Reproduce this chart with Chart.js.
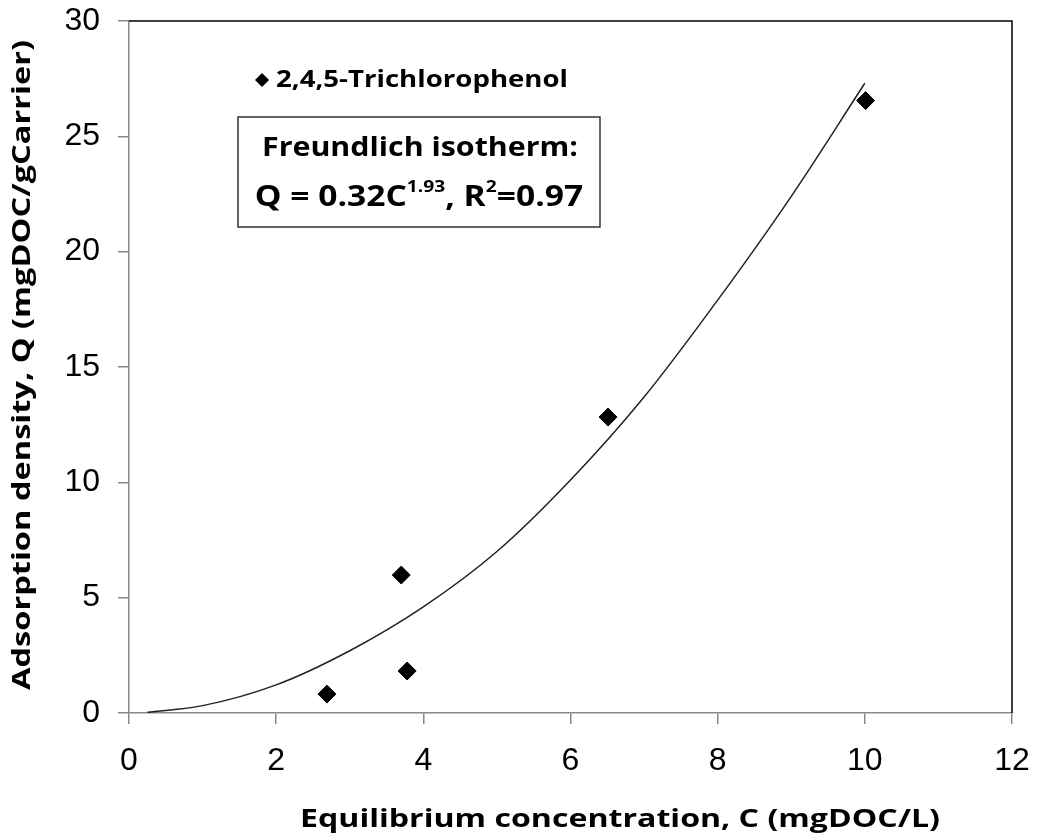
<!DOCTYPE html>
<html>
<head>
<meta charset="utf-8">
<script src="https://cdn.jsdelivr.net/npm/chart.js@4.4.0/dist/chart.umd.min.js"></script>
<style>
  html, body { margin: 0; padding: 0; background: #fff; }
  #wrap { width: 1037px; height: 839px; }
</style>
</head>
<body>
<div id="wrap"><canvas id="myChart" width="1037" height="839"></canvas></div>
<script>
// measured points for 2,4,5-Trichlorophenol
const concC = [2.69, 3.70, 3.78, 6.51, 10.01];
const densQ = [0.82, 5.98, 1.82, 12.83, 26.55];

// fitted Freundlich curve
const fitC = [0.25, 1, 2, 3, 4, 5, 6, 7, 8, 9, 10];
const fitQ = [0.03, 0.32, 1.22, 2.7, 4.6, 7.0, 10.1, 13.7, 17.9, 22.4, 27.3];

const xTicks = [0, 2, 4, 6, 8, 10, 12];
const yTicks = [0, 5, 10, 15, 20, 25, 30];

const seriesName = '2,4,5-Trichlorophenol';
const xTitle = 'Equilibrium concentration, C (mgDOC/L)';
const yTitle = 'Adsorption density, Q (mgDOC/gCarrier)';

const fam = '"Open Sans", Lato, sans-serif';

// text squeezed/stretched horizontally to a wanted width (the original font is Calibri)
function fitText(ctx, text, cx, cy, size, width) {
  ctx.font = 'bold ' + size + 'px ' + fam;
  const w = ctx.measureText(text).width;
  ctx.save();
  ctx.translate(cx, cy);
  ctx.scale(width / w, 1);
  ctx.textAlign = 'center';
  ctx.textBaseline = 'middle';
  ctx.fillText(text, 0, 0);
  ctx.restore();
}

// draws the frame, axis titles, legend and the equation box
const extras = {
  id: 'extras',
  afterDraw(chart) {
    const ctx = chart.ctx;
    const a = chart.chartArea;
    ctx.save();
    // black top + right frame
    ctx.strokeStyle = '#000';
    ctx.lineWidth = 1.5;
    ctx.beginPath();
    ctx.moveTo(a.left, a.top);
    ctx.lineTo(a.right, a.top);
    ctx.lineTo(a.right, a.bottom);
    ctx.stroke();

    ctx.fillStyle = '#000';
    fitText(ctx, xTitle, 620, 820, 25, 640);

    ctx.save();
    ctx.translate(23, 365);
    ctx.rotate(-Math.PI / 2);
    fitText(ctx, yTitle, 0, 0, 25, 650);
    ctx.restore();

    // legend
    ctx.beginPath();
    ctx.moveTo(262, 73); ctx.lineTo(269, 80); ctx.lineTo(262, 87); ctx.lineTo(255, 80);
    ctx.closePath();
    ctx.fill();
    fitText(ctx, seriesName, 422, 80, 23, 292);

    // equation box
    ctx.strokeStyle = '#333';
    ctx.lineWidth = 1.5;
    ctx.strokeRect(238, 117, 362, 110);
    fitText(ctx, 'Freundlich isotherm:', 420, 148, 27, 316);

    const parts = [
      ['Q = 0.32C', 28, 0],
      ['1.93', 16, -11],
      [', R', 28, 0],
      ['2', 16, -11],
      ['=0.97', 28, 0]
    ];
    const sx = 1.2;
    let total = 0;
    parts.forEach(p => {
      ctx.font = 'bold ' + p[1] + 'px ' + fam;
      total += ctx.measureText(p[0]).width * sx;
    });
    let x = 419 - total / 2;
    ctx.textAlign = 'left';
    ctx.textBaseline = 'middle';
    parts.forEach(p => {
      ctx.font = 'bold ' + p[1] + 'px ' + fam;
      ctx.save();
      ctx.translate(x, 198 + p[2]);
      ctx.scale(sx, 1);
      ctx.fillText(p[0], 0, 0);
      ctx.restore();
      x += ctx.measureText(p[0]).width * sx;
    });
    ctx.restore();
  }
};

const ctx = document.getElementById('myChart').getContext('2d');
const myChart = new Chart(ctx, {
  type: 'scatter',
  data: {
    datasets: [{
      label: seriesName,
      data: concC.map((c, i) => ({ x: c, y: densQ[i] })),
      pointStyle: 'rectRot',
      pointRadius: 9,
      backgroundColor: '#000',
      borderColor: '#000',
      order: 1
    }, {
      label: 'fit',
      type: 'line',
      data: fitC.map((c, i) => ({ x: c, y: fitQ[i] })),
      borderColor: '#222',
      borderWidth: 1.5,
      pointRadius: 0,
      cubicInterpolationMode: 'monotone',
      order: 2
    }]
  },
  options: {
    responsive: false,
    animation: false,
    layout: { padding: { top: 21, right: 25, left: 0, bottom: 0 } },
    plugins: { legend: { display: false }, tooltip: { enabled: false } },
    scales: {
      x: {
        type: 'linear',
        min: 0, max: 12,
        afterFit(s) { s.height = 126; s.paddingLeft = 0; s.paddingRight = 0; },
        afterBuildTicks(s) { s.ticks = xTicks.map(v => ({ value: v })); },
        grid: { drawOnChartArea: false, tickLength: 11, color: '#888', lineWidth: 1.5 },
        border: { color: '#888', width: 1.5 },
        ticks: { color: '#000', padding: 18, font: { family: '"Liberation Sans", Arial, sans-serif', size: 32 } }
      },
      y: {
        min: 0, max: 30,
        afterFit(s) { s.width = 129; s.paddingTop = 0; s.paddingBottom = 0; },
        afterBuildTicks(s) { s.ticks = yTicks.map(v => ({ value: v })); },
        grid: { drawOnChartArea: false, tickLength: 11, color: '#888', lineWidth: 1.5 },
        border: { color: '#888', width: 1.5 },
        ticks: { color: '#000', padding: 18, font: { family: '"Liberation Sans", Arial, sans-serif', size: 32 } }
      }
    }
  },
  plugins: [extras]
});
</script>
</body>
</html>
